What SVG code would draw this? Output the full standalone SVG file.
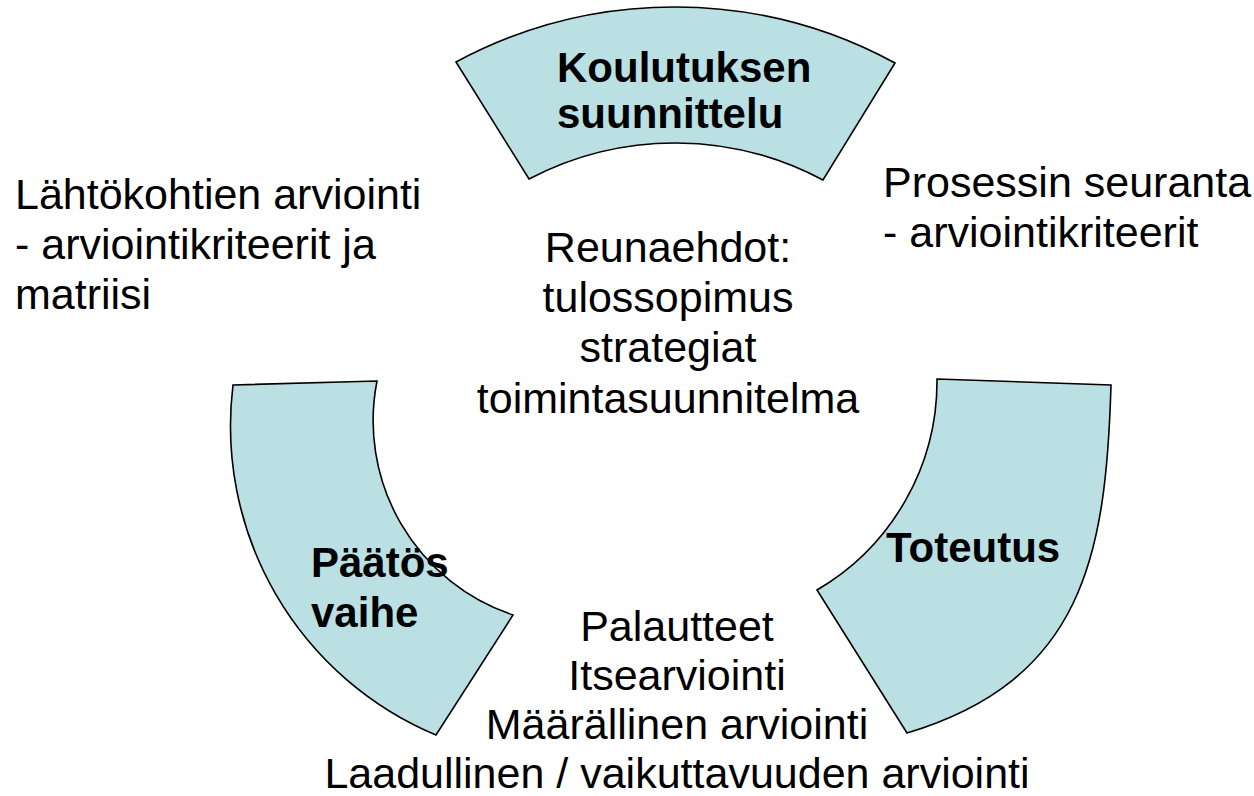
<svg xmlns="http://www.w3.org/2000/svg" width="1254" height="796" viewBox="0 0 1254 796">
<style>
.seg{fill:#BAE0E3;stroke:#000;stroke-width:1.6;stroke-linejoin:miter}
.t{font-family:"Liberation Sans",Arial,sans-serif;font-size:43px;fill:#000}
.b{font-weight:bold;font-size:42px}
.c{text-anchor:middle}
</style>
<rect width="1254" height="796" fill="#fff"/>
<g id="node-koulutuksen">
<path class="seg" d="M456,62 A462,462 0 0 1 895,63 L823,180 A314,314 0 0 0 529,179 Z"/>
<text class="t b" x="557" y="82">Koulutuksen</text>
<text class="t b" x="557" y="128">suunnittelu</text>
</g>
<g id="node-paatos">
<path class="seg" d="M233,385 L377,381 A205,205 0 0 0 513,615 L436,735 A335,335 0 0 1 233,385 Z"/>
<text class="t b" x="311" y="577">Päätös</text>
<text class="t b" x="311" y="627">vaihe</text>
</g>
<g id="node-toteutus">
<path class="seg" d="M937,379 L1111,385 C1106,556 1083,680 907,733 L817,590 A242,242 0 0 0 937,379 Z"/>
<text class="t b" x="886" y="562">Toteutus</text>
</g>
<g id="text-lahtokohtien">
<text class="t" x="15" y="209">Lähtökohtien arviointi</text>
<text class="t" x="15" y="259">- arviointikriteerit ja</text>
<text class="t" x="15" y="309">matriisi</text>
</g>
<g id="text-prosessin">
<text class="t" x="883" y="197">Prosessin seuranta</text>
<text class="t" x="883" y="247">- arviointikriteerit</text>
</g>
<g id="text-reunaehdot">
<text class="t c" x="668" y="262">Reunaehdot:</text>
<text class="t c" x="668" y="312">tulossopimus</text>
<text class="t c" x="668" y="362">strategiat</text>
<text class="t c" x="668" y="413">toimintasuunnitelma</text>
</g>
<g id="text-arviointi">
<text class="t c" x="677" y="641">Palautteet</text>
<text class="t c" x="677" y="690">Itsearviointi</text>
<text class="t c" x="677" y="739">Määrällinen arviointi</text>
<text class="t c" x="677" y="788">Laadullinen / vaikuttavuuden arviointi</text>
</g>
<g id="connectors"></g>
</svg>
